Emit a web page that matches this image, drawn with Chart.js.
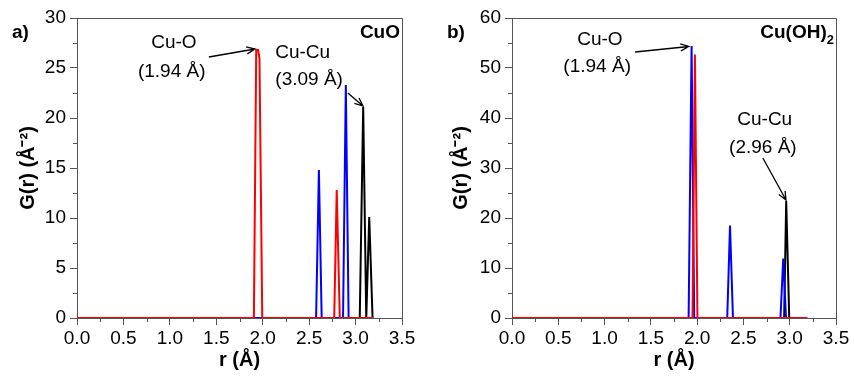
<!DOCTYPE html>
<html lang="en">
<head>
<meta charset="UTF-8">
<title>G(r) CuO / Cu(OH)2</title>
<style>
  body { margin: 0; background: #fff; }
  .wrap { display: flex; width: 854px; height: 377px; }
  .panel { width: 427px; height: 377px; }
</style>
</head>
<body>
<div class="wrap">
  <div class="panel"><canvas id="chartA" width="427" height="377"></canvas></div>
  <div class="panel"><canvas id="chartB" width="427" height="377"></canvas></div>
</div>
<script src="https://cdn.jsdelivr.net/npm/chart.js"></script>
<script>
// ---- panel a) CuO ----
const cuoRedR   = [0, 1.905, 1.93, 1.95, 1.965, 1.995, 2.77, 2.797, 2.83, 3.19];
const cuoRedG   = [0, 0, 26.8, 26.8, 26.0, 0, 0, 12.8, 0, 0];
const cuoBlackR = [3.045, 3.082, 3.115, 3.147, 3.183];
const cuoBlackG = [0, 21.1, 0, 10.1, 0];
const cuoBlueR  = [0, 2.575, 2.605, 2.635, 2.865, 2.895, 2.925, 3.19];
const cuoBlueG  = [0, 0, 14.8, 0, 0, 23.3, 0, 0];

// ---- panel b) Cu(OH)2 ----
const hydRedR   = [0, 1.95, 1.976, 2.003, 3.19];
const hydRedG   = [0, 0, 52.7, 0, 0];
const hydBlackR = [2.94, 2.962, 2.995];
const hydBlackG = [0, 23.4, 0];
const hydBlueR  = [0, 1.908, 1.94, 1.968, 2.325, 2.355, 2.387, 2.90, 2.93, 2.96, 3.19];
const hydBlueG  = [0, 0, 54.4, 0, 0, 18.5, 0, 0, 11.9, 0, 0];

const xTicks = [0, 0.5, 1.0, 1.5, 2.0, 2.5, 3.0, 3.5];

const FONT = "'Liberation Sans', Arial, sans-serif";

function pts(r, g) { return r.map((v, i) => ({ x: v, y: g[i] })); }

function makePanel(id, o) {
  const notesPlugin = {
    id: 'notes_' + id,
    afterDraw(chart) {
      const ctx = chart.ctx, a = chart.chartArea;
      const xs = chart.scales.x, ys = chart.scales.y;
      ctx.save();
      // top and right frame
      ctx.strokeStyle = '#555';
      ctx.lineWidth = 1;
      ctx.beginPath();
      ctx.moveTo(Math.round(a.left) + 0.5, Math.round(a.top) + 0.5);
      ctx.lineTo(Math.round(a.right) + 0.5, Math.round(a.top) + 0.5);
      ctx.lineTo(Math.round(a.right) + 0.5, Math.round(a.bottom) + 0.5);
      ctx.stroke();
      // minor ticks
      ctx.beginPath();
      for (let v = 0.25; v < 3.5; v += 0.5) {
        const px = Math.round(xs.getPixelForValue(v)) + 0.5;
        ctx.moveTo(px, a.bottom); ctx.lineTo(px, a.bottom + 4);
      }
      for (let v = o.yStep / 2; v < o.yMax; v += o.yStep) {
        const py = Math.round(ys.getPixelForValue(v)) + 0.5;
        ctx.moveTo(a.left, py); ctx.lineTo(a.left - 4, py);
      }
      ctx.stroke();
      // annotations
      ctx.fillStyle = '#000';
      ctx.font = '19px ' + FONT;
      ctx.textAlign = 'center';
      ctx.textBaseline = 'middle';
      o.notes.forEach(n => ctx.fillText(n.text, xs.getPixelForValue(n.x), ys.getPixelForValue(n.y)));
      ctx.strokeStyle = '#000';
      ctx.lineWidth = 1.3;
      o.arrows.forEach(w => {
        const x1 = xs.getPixelForValue(w.x1), y1 = ys.getPixelForValue(w.y1);
        const x2 = xs.getPixelForValue(w.x2), y2 = ys.getPixelForValue(w.y2);
        const ang = Math.atan2(y2 - y1, x2 - x1);
        ctx.beginPath();
        ctx.moveTo(x1, y1); ctx.lineTo(x2, y2);
        ctx.moveTo(x2 - 9 * Math.cos(ang - 0.4), y2 - 9 * Math.sin(ang - 0.4));
        ctx.lineTo(x2, y2);
        ctx.lineTo(x2 - 9 * Math.cos(ang + 0.4), y2 - 9 * Math.sin(ang + 0.4));
        ctx.stroke();
      });
      // panel letter
      ctx.font = 'bold 19px ' + FONT;
      ctx.textAlign = 'left';
      ctx.fillText(o.letter, o.letterX, 33);
      // compound name, right aligned in plot
      ctx.textAlign = 'right';
      const right = a.right - 2;
      if (o.sub) {
        ctx.font = 'bold 13px ' + FONT;
        const sw = ctx.measureText(o.sub).width;
        ctx.fillText(o.sub, right, 40);
        ctx.font = 'bold 19px ' + FONT;
        ctx.fillText(o.name, right - sw, 33);
      } else {
        ctx.fillText(o.name, right, 33);
      }
      ctx.restore();
    }
  };

  const line = (data, color) => ({
    data, borderColor: color, borderWidth: 2, pointRadius: 0, tension: 0, fill: false
  });

  return new Chart(document.getElementById(id), {
    type: 'line',
    data: {
      datasets: [
        line(pts(o.redR, o.redG), '#ff0000'),
        line(pts(o.blueR, o.blueG), '#0000ff'),
        line(pts(o.blackR, o.blackG), '#000000')
      ]
    },
    options: {
      responsive: false,
      animation: false,
      layout: { padding: { top: 18, right: o.padRight, bottom: 0, left: 0 } },
      plugins: { legend: { display: false }, tooltip: { enabled: false } },
      scales: {
        x: {
          type: 'linear', min: 0, max: 3.5,
          afterBuildTicks: s => { s.ticks = xTicks.map(v => ({ value: v })); },
          afterFit: s => { s.height = 59; },
          ticks: { color: '#000', padding: 2, font: { family: FONT, size: 19 }, callback: v => v.toFixed(1) },
          grid: { drawOnChartArea: false, tickLength: 7, color: '#555' },
          border: { display: true, color: '#555' },
          title: { display: true, text: 'r (Å)', color: '#000', padding: { top: 0, bottom: 5 },
                   font: { family: FONT, size: 20, weight: 'bold' } }
        },
        y: {
          min: 0, max: o.yMax,
          afterFit: s => { s.width = o.axisW; },
          ticks: { stepSize: o.yStep, color: '#000', padding: 4, font: { family: FONT, size: 19 } },
          grid: { drawOnChartArea: false, tickLength: 7, color: '#555' },
          border: { display: true, color: '#555' },
          title: { display: true, text: 'G(r) (Å⁻²)', color: '#000', padding: { top: o.titlePad, bottom: 0 },
                   font: { family: FONT, size: 20, weight: 'bold' } }
        }
      }
    },
    plugins: [notesPlugin]
  });
}

makePanel('chartA', {
  redR: cuoRedR, redG: cuoRedG, blueR: cuoBlueR, blueG: cuoBlueG, blackR: cuoBlackR, blackG: cuoBlackG,
  yMax: 30, yStep: 5, axisW: 77, padRight: 25, titlePad: 16,
  letter: 'a)', letterX: 12, name: 'CuO',
  notes: [
    { text: 'Cu-O', x: 1.044, y: 27.5 },
    { text: '(1.94 Å)', x: 1.02, y: 24.6 },
    { text: 'Cu-Cu', x: 2.43, y: 26.5 },
    { text: '(3.09 Å)', x: 2.50, y: 23.8 }
  ],
  arrows: [
    { x1: 1.42, y1: 26.1, x2: 1.916, y2: 26.9 },
    { x1: 2.917, y1: 22.5, x2: 3.08, y2: 21.2 }
  ]
});

makePanel('chartB', {
  redR: hydRedR, redG: hydRedG, blueR: hydBlueR, blueG: hydBlueG, blackR: hydBlackR, blackG: hydBlackG,
  yMax: 60, yStep: 10, axisW: 85, padRight: 18, titlePad: 22,
  letter: 'b)', letterX: 20, name: 'Cu(OH)', sub: '2',
  notes: [
    { text: 'Cu-O', x: 0.95, y: 55.6 },
    { text: '(1.94 Å)', x: 0.92, y: 50.2 },
    { text: 'Cu-Cu', x: 2.73, y: 39.6 },
    { text: '(2.96 Å)', x: 2.71, y: 34 }
  ],
  arrows: [
    { x1: 1.33, y1: 53.2, x2: 1.91, y2: 54.3 },
    { x1: 2.71, y1: 32, x2: 2.96, y2: 23.6 }
  ]
});
</script>
</body>
</html>
